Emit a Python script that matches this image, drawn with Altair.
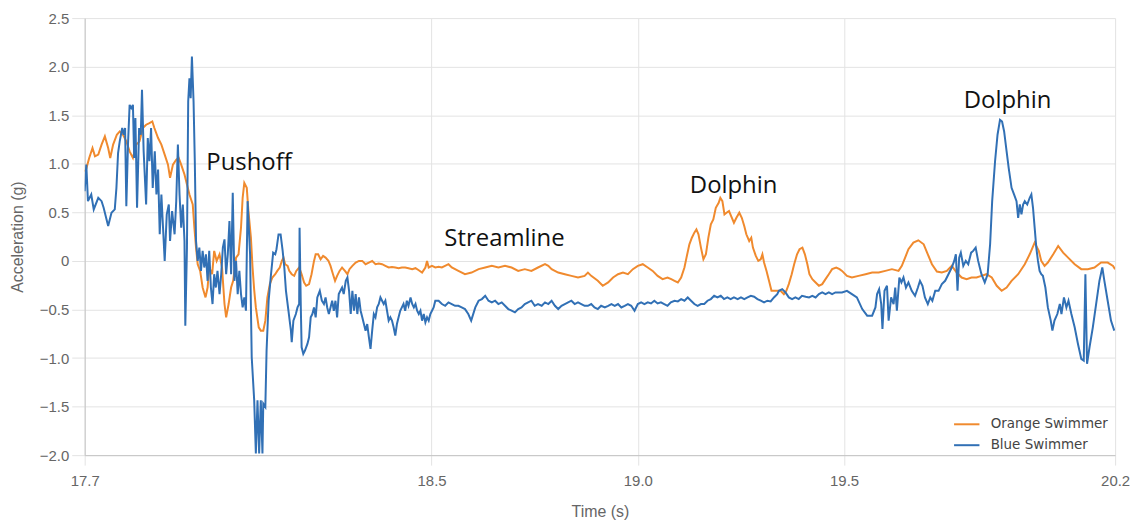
import altair as alt
import pandas as pd

# ---- data (time in s, acceleration in g) ----
blue_a = [
    (17.659,0.718),(17.663,0.991),(17.667,0.615),(17.675,0.684),(17.681,0.530),(17.692,0.650),(17.700,0.615),(17.705,0.547),(17.716,0.359),(17.724,0.496),
    (17.732,0.530),(17.736,0.752),(17.740,1.111),(17.744,1.231),(17.750,1.368),(17.754,1.299),(17.757,1.368),(17.760,0.564),(17.764,1.197),(17.768,1.607),
    (17.772,1.573),(17.776,1.607),(17.779,1.060),(17.782,1.470),(17.786,0.547),(17.791,1.368),(17.795,1.299),(17.798,1.761),(17.802,1.128),(17.808,0.581),
    (17.812,1.265),(17.816,1.026),(17.820,1.368),(17.824,0.752),(17.829,1.128),(17.833,0.684),(17.837,0.940),(17.841,0.274),(17.845,0.684),(17.849,0.342),
    (17.853,0.000),(17.858,0.479),(17.863,0.581),(17.866,0.205),(17.871,0.513),(17.877,0.274),(17.881,0.615),(17.885,1.197),(17.889,0.684),(17.893,0.342),
    (17.897,0.581),(17.901,0.205),(17.903,-0.667),(17.907,0.137),(17.910,1.641),(17.913,1.880),(17.916,1.675),(17.919,2.103),(17.923,1.641),(17.926,1.026),
    (17.929,0.205),(17.933,0.000),(17.937,0.137),(17.941,-0.103),(17.945,0.103),(17.949,-0.068),(17.953,0.068),(17.957,-0.205),(17.961,0.103),(17.965,-0.274),
    (17.969,-0.444),(17.973,-0.137),(17.977,-0.274),(17.981,-0.103),(17.986,-0.342),(17.990,-0.137),(17.994,0.137),(17.998,0.222),(18.002,-0.137),(18.006,0.068),
    (18.010,0.410),(18.014,-0.137),(18.018,0.701),(18.022,-0.205),(18.026,0.000),(18.030,-0.342),(18.034,-0.103),(18.038,-0.342),(18.042,-0.479),(18.046,-0.376),
    (18.050,-0.513),(18.054,0.615),(18.060,0.068),(18.064,-0.992),(18.070,-1.436),(18.074,-1.983),
]
blue_b = [
    (18.078,-1.436),(18.082,-1.983),(18.086,-1.436),(18.090,-1.983),(18.092,-1.470),(18.097,-1.504),(18.100,-0.923),(18.105,-0.410),(18.110,-0.171),(18.116,0.085),
    (18.121,0.068),(18.124,0.120),(18.129,0.273),(18.134,0.273),(18.139,0.103),(18.143,-0.068),(18.147,-0.308),(18.153,-0.513),(18.159,-0.718),(18.161,-0.838),
    (18.165,-0.615),(18.171,-0.547),(18.175,-0.479),(18.179,-0.444),(18.180,0.342),(18.183,-0.479),(18.185,-0.889),(18.189,-0.957),(18.193,-0.923),(18.199,-0.855),
    (18.203,-0.786),(18.207,-0.581),(18.211,-0.547),(18.215,-0.479),(18.219,-0.581),(18.223,-0.376),(18.229,-0.308),(18.234,-0.410),(18.239,-0.444),(18.243,-0.376),
    (18.247,-0.479),(18.251,-0.547),(18.255,-0.479),(18.259,-0.410),(18.263,-0.513),(18.267,-0.410),(18.271,-0.581),(18.275,-0.342),(18.279,-0.308),(18.283,-0.274),
    (18.287,-0.342),(18.292,-0.205),(18.296,-0.171),(18.300,-0.308),(18.304,-0.547),(18.308,-0.308),(18.312,-0.513),(18.316,-0.342),(18.320,-0.547),(18.324,-0.376),
    (18.328,-0.513),(18.332,-0.581),(18.336,-0.650),(18.340,-0.718),(18.344,-0.650),(18.348,-0.786),(18.352,-0.906),(18.356,-0.718),(18.360,-0.547),(18.364,-0.581),
    (18.368,-0.479),(18.372,-0.444),(18.376,-0.376),(18.380,-0.410),(18.384,-0.444),(18.388,-0.410),(18.392,-0.513),(18.396,-0.615),(18.400,-0.581),(18.404,-0.615),
    (18.408,-0.684),(18.412,-0.769),(18.416,-0.650),(18.420,-0.581),(18.424,-0.513),(18.428,-0.479),(18.432,-0.444),(18.436,-0.513),(18.440,-0.410),(18.444,-0.462),
    (18.449,-0.376),(18.453,-0.444),(18.457,-0.479),(18.461,-0.444),(18.465,-0.513),(18.469,-0.547),(18.473,-0.513),(18.477,-0.615),(18.481,-0.547),(18.485,-0.632),
    (18.489,-0.581),(18.493,-0.615),(18.497,-0.547),(18.501,-0.513),(18.505,-0.479),(18.509,-0.410),(18.513,-0.410),
]
blue_c = [
    (18.517,-0.410),(18.525,-0.444),(18.533,-0.462),(18.541,-0.427),(18.549,-0.444),(18.557,-0.462),(18.565,-0.462),(18.573,-0.479),(18.581,-0.496),(18.589,-0.547),
    (18.596,-0.615),(18.606,-0.479),(18.614,-0.410),(18.622,-0.393),(18.630,-0.359),(18.638,-0.410),(18.646,-0.427),(18.654,-0.410),(18.662,-0.444),(18.670,-0.427),
    (18.678,-0.462),(18.686,-0.496),(18.694,-0.513),(18.702,-0.530),(18.710,-0.496),(18.718,-0.479),(18.726,-0.444),(18.734,-0.427),(18.742,-0.410),(18.750,-0.462),
    (18.758,-0.444),(18.767,-0.462),(18.775,-0.427),(18.783,-0.444),(18.791,-0.410),(18.799,-0.462),(18.807,-0.496),(18.815,-0.462),(18.823,-0.444),(18.831,-0.427),
    (18.839,-0.410),(18.847,-0.444),(18.855,-0.427),(18.863,-0.444),(18.871,-0.462),(18.879,-0.462),(18.887,-0.444),(18.895,-0.479),(18.903,-0.496),(18.911,-0.462),
    (18.920,-0.479),(18.928,-0.462),(18.936,-0.444),(18.944,-0.462),(18.952,-0.444),(18.960,-0.479),(18.968,-0.462),(18.976,-0.444),(18.984,-0.462),(18.992,-0.513),
    (19.000,-0.444),(19.008,-0.427),(19.016,-0.444),(19.024,-0.427),(19.032,-0.438),(19.040,-0.410),(19.048,-0.438),(19.056,-0.427),(19.064,-0.444),(19.072,-0.462),
    (19.080,-0.427),(19.089,-0.410),(19.097,-0.417),(19.105,-0.393),(19.113,-0.410),(19.121,-0.376),(19.129,-0.410),(19.137,-0.444),(19.145,-0.462),(19.153,-0.444),
    (19.161,-0.444),(19.169,-0.410),(19.177,-0.393),(19.185,-0.359),(19.193,-0.376),(19.201,-0.359),(19.209,-0.393),(19.217,-0.376),(19.225,-0.393),(19.233,-0.376),
    (19.242,-0.393),(19.250,-0.376),(19.258,-0.393),(19.266,-0.376),(19.274,-0.359),(19.282,-0.369),(19.290,-0.393),(19.298,-0.410),(19.306,-0.427),(19.314,-0.410),
    (19.322,-0.417),(19.330,-0.376),(19.338,-0.342),(19.342,-0.308),(19.350,-0.291),(19.358,-0.325),(19.366,-0.376),(19.374,-0.393),(19.382,-0.376),(19.390,-0.393),
    (19.398,-0.359),(19.407,-0.369),(19.415,-0.376),(19.423,-0.359),(19.431,-0.376),(19.439,-0.342),(19.447,-0.325),(19.455,-0.342),(19.463,-0.325),(19.471,-0.342),
    (19.479,-0.325),(19.487,-0.325),
]
blue_d = [
    (19.495,-0.325),(19.507,-0.308),(19.519,-0.342),(19.531,-0.376),(19.544,-0.496),(19.556,-0.564),(19.568,-0.564),(19.576,-0.479),(19.580,-0.342),(19.585,-0.291),
    (19.590,-0.444),(19.593,-0.701),(19.598,-0.308),(19.604,-0.256),(19.608,-0.615),(19.614,-0.376),(19.620,-0.444),(19.624,-0.274),(19.628,-0.513),(19.634,-0.171),
    (19.639,-0.222),(19.644,-0.171),(19.650,-0.274),(19.656,-0.222),(19.664,-0.308),(19.672,-0.359),(19.679,-0.274),(19.684,-0.205),(19.690,-0.256),(19.696,-0.376),
    (19.703,-0.444),(19.709,-0.376),(19.714,-0.410),(19.721,-0.308),(19.729,-0.308),(19.737,-0.239),(19.745,-0.205),(19.753,-0.137),(19.761,-0.068),(19.767,0.000),
    (19.771,0.068),(19.775,-0.308),(19.779,0.034),(19.783,0.085),(19.789,-0.051),(19.795,0.000),(19.801,-0.034),(19.808,0.085),(19.813,0.103),(19.819,0.137),
    (19.825,0.000),(19.833,-0.137),(19.841,-0.222),(19.848,-0.137),(19.854,0.171),(19.859,0.615),(19.866,1.026),(19.872,1.299),(19.878,1.453),(19.883,1.436),
    (19.888,1.333),(19.894,1.128),(19.899,0.957),(19.906,0.752),(19.912,0.684),(19.918,0.615),(19.922,0.444),(19.926,0.581),(19.930,0.479),(19.934,0.581),
    (19.938,0.615),(19.944,0.581),(19.950,0.650),(19.954,0.684),(19.958,0.547),(19.962,0.342),(19.966,0.137),(19.970,0.000),(19.974,-0.103),(19.978,-0.137),
    (19.982,-0.154),(19.988,-0.274),(19.994,-0.479),(20.001,-0.615),(20.005,-0.718),(20.010,-0.615),(20.017,-0.547),(20.023,-0.444),(20.027,-0.547),(20.033,-0.376),
    (20.039,-0.479),(20.044,-0.410),(20.051,-0.547),(20.059,-0.684),(20.067,-0.855),(20.075,-1.009),(20.081,-1.026),(20.085,-0.137),(20.089,-1.060),(20.095,-0.889),
    (20.103,-0.684),(20.111,-0.444),(20.119,-0.205),(20.126,-0.068),(20.131,-0.205),(20.139,-0.410),(20.147,-0.615),(20.155,-0.718),
]

orange_a = [
    (17.659,0.920),(17.663,0.950),(17.670,1.060),(17.678,1.162),(17.684,1.077),(17.692,1.094),(17.700,1.197),(17.708,1.282),(17.716,1.162),(17.721,1.060),
    (17.728,1.197),(17.737,1.299),(17.744,1.333),(17.752,1.299),(17.760,1.231),(17.768,1.128),(17.776,1.060),(17.784,1.197),(17.792,1.231),(17.800,1.368),
    (17.808,1.402),(17.816,1.419),(17.823,1.436),(17.828,1.368),(17.837,1.265),(17.845,1.197),(17.853,1.094),(17.861,0.991),(17.866,0.855),(17.873,0.991),
    (17.881,1.043),(17.887,1.060),(17.893,0.991),(17.901,0.889),(17.907,0.786),(17.913,0.684),(17.921,0.581),(17.925,0.342),(17.929,0.137),(17.933,-0.034),
    (17.939,-0.103),(17.945,-0.274),(17.952,-0.376),(17.957,-0.274),(17.961,-0.068),(17.968,-0.137),(17.973,0.103),(17.979,0.000),(17.986,0.068),(17.992,-0.068),
    (17.998,-0.444),(18.002,-0.581),(18.008,-0.444),(18.014,-0.274),(18.019,-0.205),(18.026,0.034),(18.032,0.068),(18.038,0.342),(18.042,0.650),(18.046,0.803),
    (18.052,0.752),(18.056,0.513),(18.062,0.239),(18.066,-0.068),(18.070,-0.300),(18.074,-0.479),(18.081,-0.684),(18.086,-0.718),(18.092,-0.718),(18.097,-0.615),
]
orange_b = [
    (18.102,-0.376),(18.108,-0.239),(18.114,-0.171),(18.121,-0.137),(18.126,-0.103),(18.132,-0.068),(18.137,0.000),(18.141,0.034),(18.145,-0.034),(18.151,-0.051),
    (18.155,-0.103),(18.161,-0.137),(18.167,-0.154),(18.172,-0.103),(18.179,-0.068),(18.185,-0.137),(18.191,-0.222),(18.196,-0.256),(18.203,-0.239),(18.209,-0.137),
    (18.215,0.000),(18.219,0.068),(18.225,0.068),(18.231,0.017),(18.237,0.051),(18.243,0.034),(18.250,0.000),(18.255,-0.051),(18.261,-0.137),(18.266,-0.205),
    (18.271,-0.154),(18.277,-0.103),(18.283,-0.068),(18.290,-0.103),(18.296,-0.137),(18.301,-0.085),(18.308,-0.051),(18.316,-0.017),(18.324,0.000),(18.332,0.000),
    (18.340,-0.034),(18.348,-0.017),(18.356,0.000),(18.364,-0.034),(18.372,-0.027),(18.380,-0.034),(18.388,-0.051),(18.396,-0.068),(18.404,-0.062),(18.412,-0.068),
    (18.420,-0.075),(18.428,-0.068),(18.436,-0.068),(18.444,-0.075),(18.453,-0.085),(18.461,-0.075),(18.469,-0.096),(18.477,-0.120),(18.485,-0.068),(18.489,0.000),
    (18.493,-0.068),(18.501,-0.051),(18.509,-0.068),(18.517,-0.060),
]
orange_c = [
    (18.525,-0.068),(18.541,-0.034),(18.549,-0.068),(18.565,-0.103),(18.581,-0.137),(18.597,-0.120),(18.614,-0.085),(18.630,-0.068),(18.646,-0.051),(18.662,-0.068),
    (18.678,-0.051),(18.694,-0.068),(18.710,-0.103),(18.726,-0.085),(18.742,-0.103),(18.758,-0.068),(18.775,-0.034),(18.783,-0.051),(18.791,-0.085),(18.807,-0.120),
    (18.823,-0.137),(18.839,-0.154),(18.855,-0.171),(18.871,-0.154),(18.879,-0.120),(18.887,-0.154),(18.903,-0.205),(18.915,-0.256),(18.928,-0.222),(18.940,-0.171),
    (18.952,-0.137),(18.964,-0.120),(18.976,-0.137),(18.988,-0.085),(19.000,-0.051),(19.012,-0.034),(19.024,-0.068),(19.036,-0.103),(19.048,-0.154),(19.060,-0.188),
    (19.072,-0.171),(19.081,-0.188),(19.089,-0.205),(19.097,-0.222),(19.105,-0.171),(19.113,-0.068),(19.118,0.034),(19.125,0.171),(19.131,0.239),(19.137,0.291),
    (19.142,0.325),(19.147,0.274),(19.153,0.137),(19.159,0.017),(19.165,0.068),(19.171,0.239),(19.177,0.376),(19.183,0.427),(19.189,0.547),(19.196,0.598),
    (19.200,0.650),(19.205,0.615),(19.210,0.479),(19.215,0.496),(19.221,0.513),(19.228,0.444),(19.233,0.393),(19.239,0.444),(19.246,0.496),(19.252,0.444),
    (19.258,0.359),(19.263,0.274),(19.270,0.205),(19.275,0.239),(19.279,0.137),(19.286,0.051),(19.292,0.000),(19.298,0.017),(19.302,0.068),(19.306,-0.017),
    (19.312,-0.103),(19.318,-0.205),(19.324,-0.308),(19.334,-0.308),(19.346,-0.308),(19.354,-0.342),(19.360,-0.308),(19.366,-0.239),(19.373,-0.137),(19.379,-0.034),
    (19.386,0.068),(19.392,0.120),(19.399,0.137),(19.405,0.068),(19.411,-0.034),(19.416,-0.137),(19.423,-0.188),(19.431,-0.222),(19.439,-0.256),(19.447,-0.239),
    (19.455,-0.188),(19.463,-0.137),(19.471,-0.085),(19.481,-0.068),(19.489,-0.085),
]
orange_d = [
    (19.495,-0.103),(19.507,-0.154),(19.519,-0.171),(19.535,-0.154),(19.552,-0.137),(19.568,-0.120),(19.584,-0.120),(19.600,-0.103),(19.616,-0.085),(19.632,-0.103),
    (19.640,-0.051),(19.648,0.034),(19.656,0.120),(19.668,0.188),(19.680,0.212),(19.693,0.171),(19.703,0.068),(19.713,-0.034),(19.725,-0.109),(19.737,-0.120),
    (19.749,-0.103),(19.761,-0.051),(19.773,-0.120),(19.785,-0.171),(19.797,-0.188),(19.809,-0.171),(19.821,-0.171),(19.833,-0.154),(19.845,-0.137),(19.858,-0.171),
    (19.870,-0.256),(19.882,-0.308),(19.894,-0.274),(19.906,-0.205),(19.922,-0.137),(19.938,-0.034),(19.950,0.068),(19.962,0.188),(19.972,0.103),(19.978,0.000),
    (19.986,-0.051),(19.994,-0.017),(20.007,0.068),(20.019,0.154),(20.031,0.085),(20.043,0.034),(20.059,-0.034),(20.075,-0.085),(20.091,-0.085),(20.107,-0.068),
    (20.123,-0.017),(20.139,-0.017),(20.152,-0.051),(20.157,-0.085),
]

series_names = ["Orange Swimmer", "Blue Swimmer"]
series_colors = ["#F08A2E", "#3170B5"]

x_ticks = [17.659, 18.5, 19.0, 19.5, 20.157]
y_ticks = [-2.0, -1.5, -1.0, -0.5, 0.0, 0.5, 1.0, 1.5, 2.0, 2.5]

annot_text = ["Pushoff", "Streamline", "Dolphin", "Dolphin"]
annot_time = [17.954, 18.531, 19.126, 19.790]
annot_acc = [0.94, 0.154, 0.70, 1.57]

# ---- build tables ----
rows = []
for name, parts in (("Orange Swimmer", [orange_a, orange_b, orange_c, orange_d]),
                    ("Blue Swimmer", [blue_a, blue_b, blue_c, blue_d])):
    i = 0
    for part in parts:
        for t, v in part:
            rows.append({"time": t, "acc": v, "series": name, "order": i})
            i += 1
df = pd.DataFrame(rows)
ann = pd.DataFrame({"time": annot_time, "acc": annot_acc, "label": annot_text})

xscale = alt.Scale(domain=[x_ticks[0], x_ticks[-1]], nice=False, zero=False)
yscale = alt.Scale(domain=[-2.0, 2.5], nice=False, zero=False)
cscale = alt.Scale(domain=series_names, range=series_colors)

xaxis = alt.Axis(values=x_ticks, format=".1f", title="Time (s)", grid=True,
                 labelFont="Liberation Sans", labelFontSize=15, labelColor="#666666",
                 titleFont="Liberation Sans", titleFontSize=16, titleFontWeight="normal",
                 titleColor="#666666", gridColor="#e3e3e3", domainColor="#c4c4c4",
                 tickColor="#e3e3e3", tickSize=10, labelPadding=8, titlePadding=16,
                 labelFlush=False)
yaxis = alt.Axis(values=y_ticks, title="Acceleration (g)", grid=True,
                 labelExpr="datum.value == 0 ? '0' : format(datum.value, '.1f')",
                 labelFont="Liberation Sans", labelFontSize=15, labelColor="#666666",
                 titleFont="Liberation Sans", titleFontSize=16, titleFontWeight="normal",
                 titleColor="#666666", gridColor="#e3e3e3", domainColor="#c4c4c4",
                 tickColor="#e3e3e3", tickSize=13, labelPadding=3, titlePadding=14,
                 labelFlush=False)

legend = alt.Legend(title=None, orient="none", legendX=872, legendY=394,
                    symbolType="stroke", symbolStrokeWidth=2, symbolSize=650,
                    labelFont="DejaVu Sans", labelFontSize=13.5, labelColor="#444444",
                    labelOffset=10, padding=0, rowPadding=0)

base = alt.Chart(df)
orange_line = base.transform_filter(alt.datum.series == "Orange Swimmer").mark_line(
    strokeWidth=2, clip=True).encode(
    x=alt.X("time:Q", scale=xscale, axis=xaxis),
    y=alt.Y("acc:Q", scale=yscale, axis=yaxis),
    color=alt.Color("series:N", scale=cscale, legend=legend),
    order="order:Q",
)
blue_line = base.transform_filter(alt.datum.series == "Blue Swimmer").mark_line(
    strokeWidth=2, clip=True).encode(
    x=alt.X("time:Q", scale=xscale),
    y=alt.Y("acc:Q", scale=yscale),
    color=alt.Color("series:N", scale=cscale, legend=legend),
    order="order:Q",
)
labels = alt.Chart(ann).mark_text(align="left", baseline="alphabetic", font="Open Sans",
                                  fontSize=24, color="#111111").encode(
    x=alt.X("time:Q", scale=xscale),
    y=alt.Y("acc:Q", scale=yscale),
    text="label:N",
)

chart = alt.layer(orange_line, blue_line, labels).properties(
    width=1035, height=439,
    autosize=alt.AutoSizeParams(type="none"),
    padding={"left": 77, "top": 9, "right": 22, "bottom": 64},
).configure_view(strokeWidth=0)

chart.save("out.html", embed_options={"renderer": "svg", "actions": False})
